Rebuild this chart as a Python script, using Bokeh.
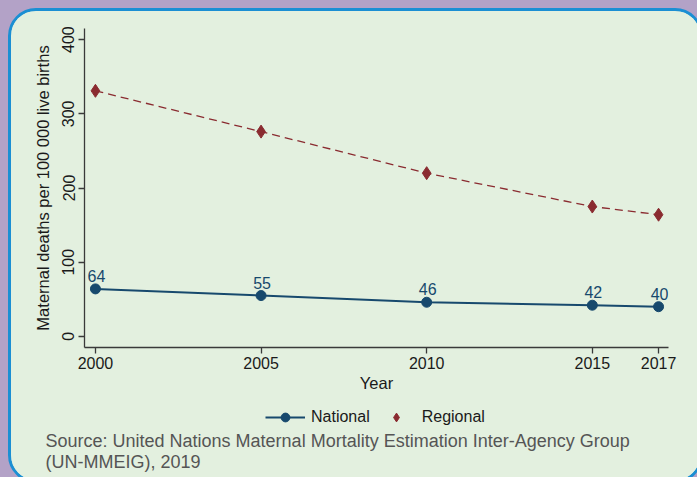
from bokeh.plotting import figure
from bokeh.layouts import column
from bokeh.models import (Range1d, FixedTicker, Legend, LegendItem, Label,
                          ColumnDataSource, LabelSet, GlobalInlineStyleSheet)
from bokeh.core.properties import value
from bokeh.embed import file_html
from bokeh.resources import INLINE

years = [2000, 2005, 2010, 2015, 2017]
national = [64, 55, 46, 42, 40]
regional = [331, 276, 220, 175, 164]
national_labels = ["64", "55", "46", "42", "40"]
y_ticks = [0, 100, 200, 300, 400]
x_ticks = [2000, 2005, 2010, 2015, 2017]
series_names = ["National", "Regional"]
source_lines = ["Source: United Nations Maternal Mortality Estimation Inter-Agency Group",
                "(UN-MMEIG), 2019"]

FONT = "Liberation Sans"
PANEL = "#e3f0df"
PURPLE = "#b3a2c7"
NAVY = "#17496d"
RED = "#8a2b30"
TXT = "#1a1a1a"

# ---------------- main chart ----------------
p = figure(width=689, height=384, output_backend="svg", toolbar_location=None,
           x_range=Range1d(1999.67, 2017.3), y_range=Range1d(-15, 415),
           min_border_left=73, min_border_right=32, min_border_top=17, min_border_bottom=48)
p.stylesheets = [GlobalInlineStyleSheet(
    css=f"html,body{{margin:0;padding:0;background:{PURPLE};overflow:hidden;}}")]
p.border_fill_color = PANEL
p.background_fill_color = PANEL
p.outline_line_color = None
p.grid.visible = False

src = ColumnDataSource(dict(x=years, n=national, r=regional, lab=national_labels))

p.line("x", "r", source=src, line_color=RED, line_width=1.3, line_dash="8 5")
p.scatter("x", "r", source=src, marker="diamond", size=13, fill_color=RED, line_color=RED)
p.line("x", "n", source=src, line_color=NAVY, line_width=2)
p.scatter("x", "n", source=src, marker="circle", size=10, fill_color=NAVY, line_color=NAVY)

labels = LabelSet(x="x", y="n", text="lab", source=src, y_offset=7, x_offset=1,
                  text_align="center", text_baseline="bottom", text_color=NAVY,
                  text_font=value(FONT), text_font_size="16px")
p.add_layout(labels)

for ax in (p.xaxis[0], p.yaxis[0]):
    ax.axis_line_color = "#3a3a3a"
    ax.axis_line_width = 1.3
    ax.major_tick_line_color = "#3a3a3a"
    ax.major_tick_line_width = 1.3
    ax.major_tick_out = 6
    ax.major_tick_in = 0
    ax.minor_tick_line_color = None
    ax.major_label_text_font = FONT
    ax.major_label_text_font_size = "16px"
    ax.major_label_text_color = TXT
    ax.axis_label_text_font = FONT
    ax.axis_label_text_font_size = "16.5px"
    ax.axis_label_text_font_style = "normal"
    ax.axis_label_text_color = TXT

p.xaxis.ticker = FixedTicker(ticks=x_ticks)
p.yaxis.ticker = FixedTicker(ticks=y_ticks)
p.xaxis.axis_label = "Year"
p.xaxis.major_label_standoff = 3
p.xaxis.axis_label_standoff = 2
p.yaxis.axis_label = "Maternal deaths per 100 000 live births"
p.yaxis.major_label_orientation = "vertical"
p.yaxis.major_label_standoff = 4
p.yaxis.axis_label_standoff = 8

# ---------------- legend + source strip ----------------
p2 = figure(width=689, height=85, output_backend="svg", toolbar_location=None,
            x_range=Range1d(0, 1), y_range=Range1d(0, 1),
            x_axis_type=None, y_axis_type=None, min_border=0,
            min_border_left=0, min_border_right=0, min_border_top=0, min_border_bottom=0)
p2.border_fill_color = PANEL
p2.background_fill_color = PANEL
p2.outline_line_color = None
p2.grid.visible = False

shift = 0
if "frame_align" in p2.properties():
    p2.frame_align = False
    p.frame_align = False
else:
    shift = 73

# legend-only copies of the two series (hidden; their data lies outside this strip)
leg_nl = p2.line("x", "n", source=src, line_color=NAVY, line_width=2, visible=False)
leg_ns = p2.scatter("x", "n", source=src, marker="circle", size=9, fill_color=NAVY,
                    line_color=NAVY, visible=False)
leg_rs = p2.scatter("x", "r", source=src, marker="diamond", size=12, fill_color=RED,
                    line_color=RED, visible=False)

legend = Legend(items=[LegendItem(label=series_names[0], renderers=[leg_nl, leg_ns]),
                       LegendItem(label=series_names[1], renderers=[leg_rs])],
                location=(254 - shift, 52), orientation="horizontal",
                glyph_width=40, glyph_height=22, label_text_font=FONT, label_text_font_size="16px",
                label_text_color=TXT, spacing=6, padding=0, margin=0,
                border_line_alpha=0, background_fill_alpha=0, label_standoff=6,
                inactive_fill_alpha=0)
p2.add_layout(legend, "center")

for i, line_text in enumerate(source_lines):
    p2.add_layout(Label(x=34 - shift, y=40 - 21 * i, x_units="screen", y_units="screen",
                        text=line_text, text_font=FONT, text_font_size="18px",
                        text_color="#555555", text_baseline="middle"))

layout = column(p, p2, spacing=0)
layout.styles = {"margin-left": "8px", "margin-top": "8px", "border": "3px solid #1b8fd3",
                 "border-radius": "28px", "overflow": "hidden", "background": PANEL}

open("out.html", "w").write(file_html(layout, INLINE))
